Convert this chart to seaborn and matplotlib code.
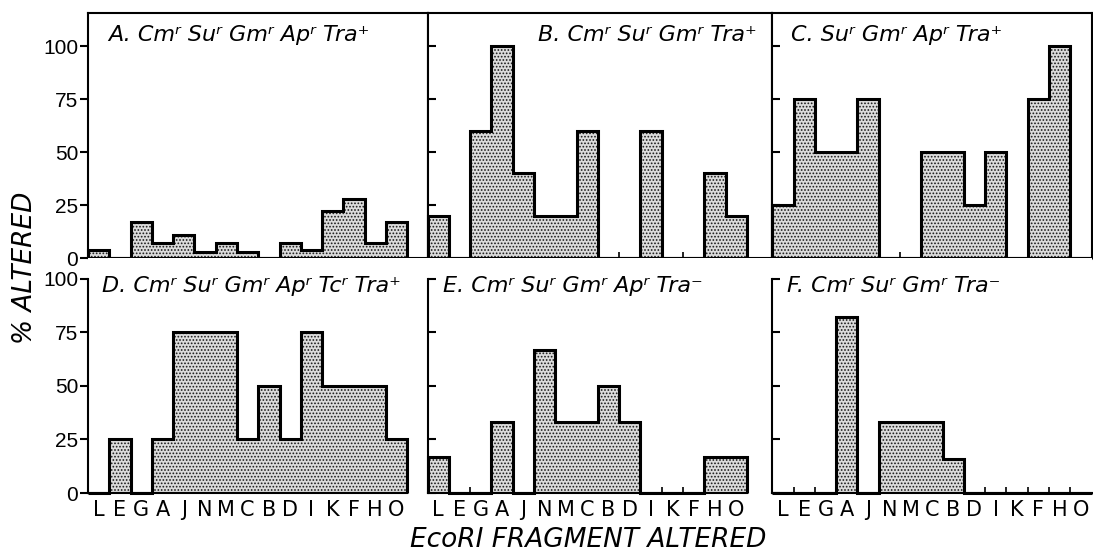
import numpy as np
import pandas as pd
import matplotlib
matplotlib.use("Agg")
import matplotlib.pyplot as plt
import seaborn as sns

# EcoRI fragments along the x axis
fragments = ["L", "E", "G", "A", "J", "N", "M", "C", "B", "D", "I", "K", "F", "H", "O"]

panel_titles = [
    "A. Cmʳ Suʳ Gmʳ Apʳ Tra⁺",
    "B. Cmʳ Suʳ Gmʳ Tra⁺",
    "C. Suʳ Gmʳ Apʳ Tra⁺",
    "D. Cmʳ Suʳ Gmʳ Apʳ Tcʳ Tra⁺",
    "E. Cmʳ Suʳ Gmʳ Apʳ Tra⁻",
    "F. Cmʳ Suʳ Gmʳ Tra⁻",
]

# percent of isolates with the fragment altered
altered_a = [4, 0, 17, 7, 11, 3, 7, 3, 0, 7, 4, 22, 28, 7, 17]
altered_b = [20, 0, 60, 100, 40, 20, 20, 60, 0, 0, 60, 0, 0, 40, 20]
altered_c = [25, 75, 50, 50, 75, 0, 0, 50, 50, 25, 50, 0, 75, 100, 0]
altered_d = [0, 25, 0, 25, 75, 75, 75, 25, 50, 25, 75, 50, 50, 50, 25]
altered_e = [17, 0, 0, 33, 0, 67, 33, 33, 50, 33, 0, 0, 0, 17, 17]
altered_f = [0, 0, 0, 82, 0, 33, 33, 33, 16, 0, 0, 0, 0, 0, 0]

y_ticks = [0, 25, 50, 75, 100]

sns.set_style("ticks")
plt.rcParams["font.family"] = ["DejaVu Sans"]
plt.rcParams["hatch.linewidth"] = 0.8
plt.rcParams["axes.linewidth"] = 1.5
for key in ["text.color", "axes.edgecolor", "axes.labelcolor", "xtick.color", "ytick.color"]:
    plt.rcParams[key] = "black"

col_px = [340, 345, 320]
bin_px = 21.3

fig, axes = plt.subplots(
    2, 3, figsize=(10.93, 5.54), dpi=100,
    gridspec_kw=dict(width_ratios=col_px, height_ratios=[245, 235],
                     wspace=0, hspace=0,
                     left=88 / 1093, right=1092 / 1093,
                     top=1 - 13 / 554, bottom=1 - 493 / 554),
)

all_values = [altered_a, altered_b, altered_c, altered_d, altered_e, altered_f]
edges = np.arange(len(fragments) + 1) - 0.5

for i, (ax, values, title) in enumerate(zip(axes.flat, all_values, panel_titles)):
    row, col = divmod(i, 3)
    df = pd.DataFrame({"fragment": fragments, "altered": values})

    # stippled fill
    sns.barplot(data=df, x="fragment", y="altered", order=fragments, ax=ax,
                width=1.0, color="#dcdcdc", saturation=1, errorbar=None,
                hatch=".....", edgecolor="#1a1a1a", linewidth=0)
    # histogram outline
    ax.stairs(values, edges, baseline=0, color="black", lw=2.2,
              zorder=3, clip_on=False)

    ax.set_xlim(-0.5, -0.5 + col_px[col] / bin_px)
    ax.set_xlabel("")
    ax.set_ylabel("")
    ax.set_yticks(y_ticks)
    ax.set_xticks(range(len(fragments)))
    ax.set_xticks(edges[1:-1], minor=True)
    ax.tick_params(axis="x", which="minor", direction="in", length=4, width=1.2)
    ax.tick_params(axis="x", which="major", length=0, pad=5)

    if col == 0:
        ax.tick_params(axis="y", direction="out", length=6, width=1.5, pad=1)
        ax.set_yticklabels([str(t) for t in y_ticks], fontsize=15,
                           family="Liberation Sans")
    else:
        ax.tick_params(axis="y", direction="in", length=6, width=1.5)
        ax.set_yticklabels([])

    if row == 0:
        ax.set_ylim(0, 115.6)
        ax.set_xticklabels([])
        for s in ax.spines.values():
            s.set_visible(True)
            s.set_linewidth(1.5)
        if col == 1:
            ax.text(0.954, 0.95, title, transform=ax.transAxes, ha="right",
                    va="top", fontsize=16, fontstyle="italic")
        else:
            ax.text(0.058, 0.95, title, transform=ax.transAxes, ha="left",
                    va="top", fontsize=16, fontstyle="italic")
    else:
        ax.set_ylim(0, 109.8)
        ax.set_xticklabels(fragments, fontsize=15)
        ax.spines["top"].set_visible(False)
        ax.spines["right"].set_visible(False)
        ax.spines["left"].set_bounds(0, 100)
        ax.spines["bottom"].set_bounds(-0.5, len(fragments) - 0.5)
        ax.text(0.04 if col == 0 else 0.045, 0.925, title, transform=ax.transAxes,
                ha="left", va="top", fontsize=16, fontstyle="italic")

fig.text(25 / 1093, 1 - 268 / 554, "% ALTERED", rotation=90, ha="center",
         va="center", fontsize=19, fontstyle="italic")
fig.text(588 / 1093, 1 - 540 / 554, "EcoRI FRAGMENT ALTERED", ha="center",
         va="center", fontsize=19, fontstyle="italic")

plt.savefig("out.png", dpi=100)
plt.close()
